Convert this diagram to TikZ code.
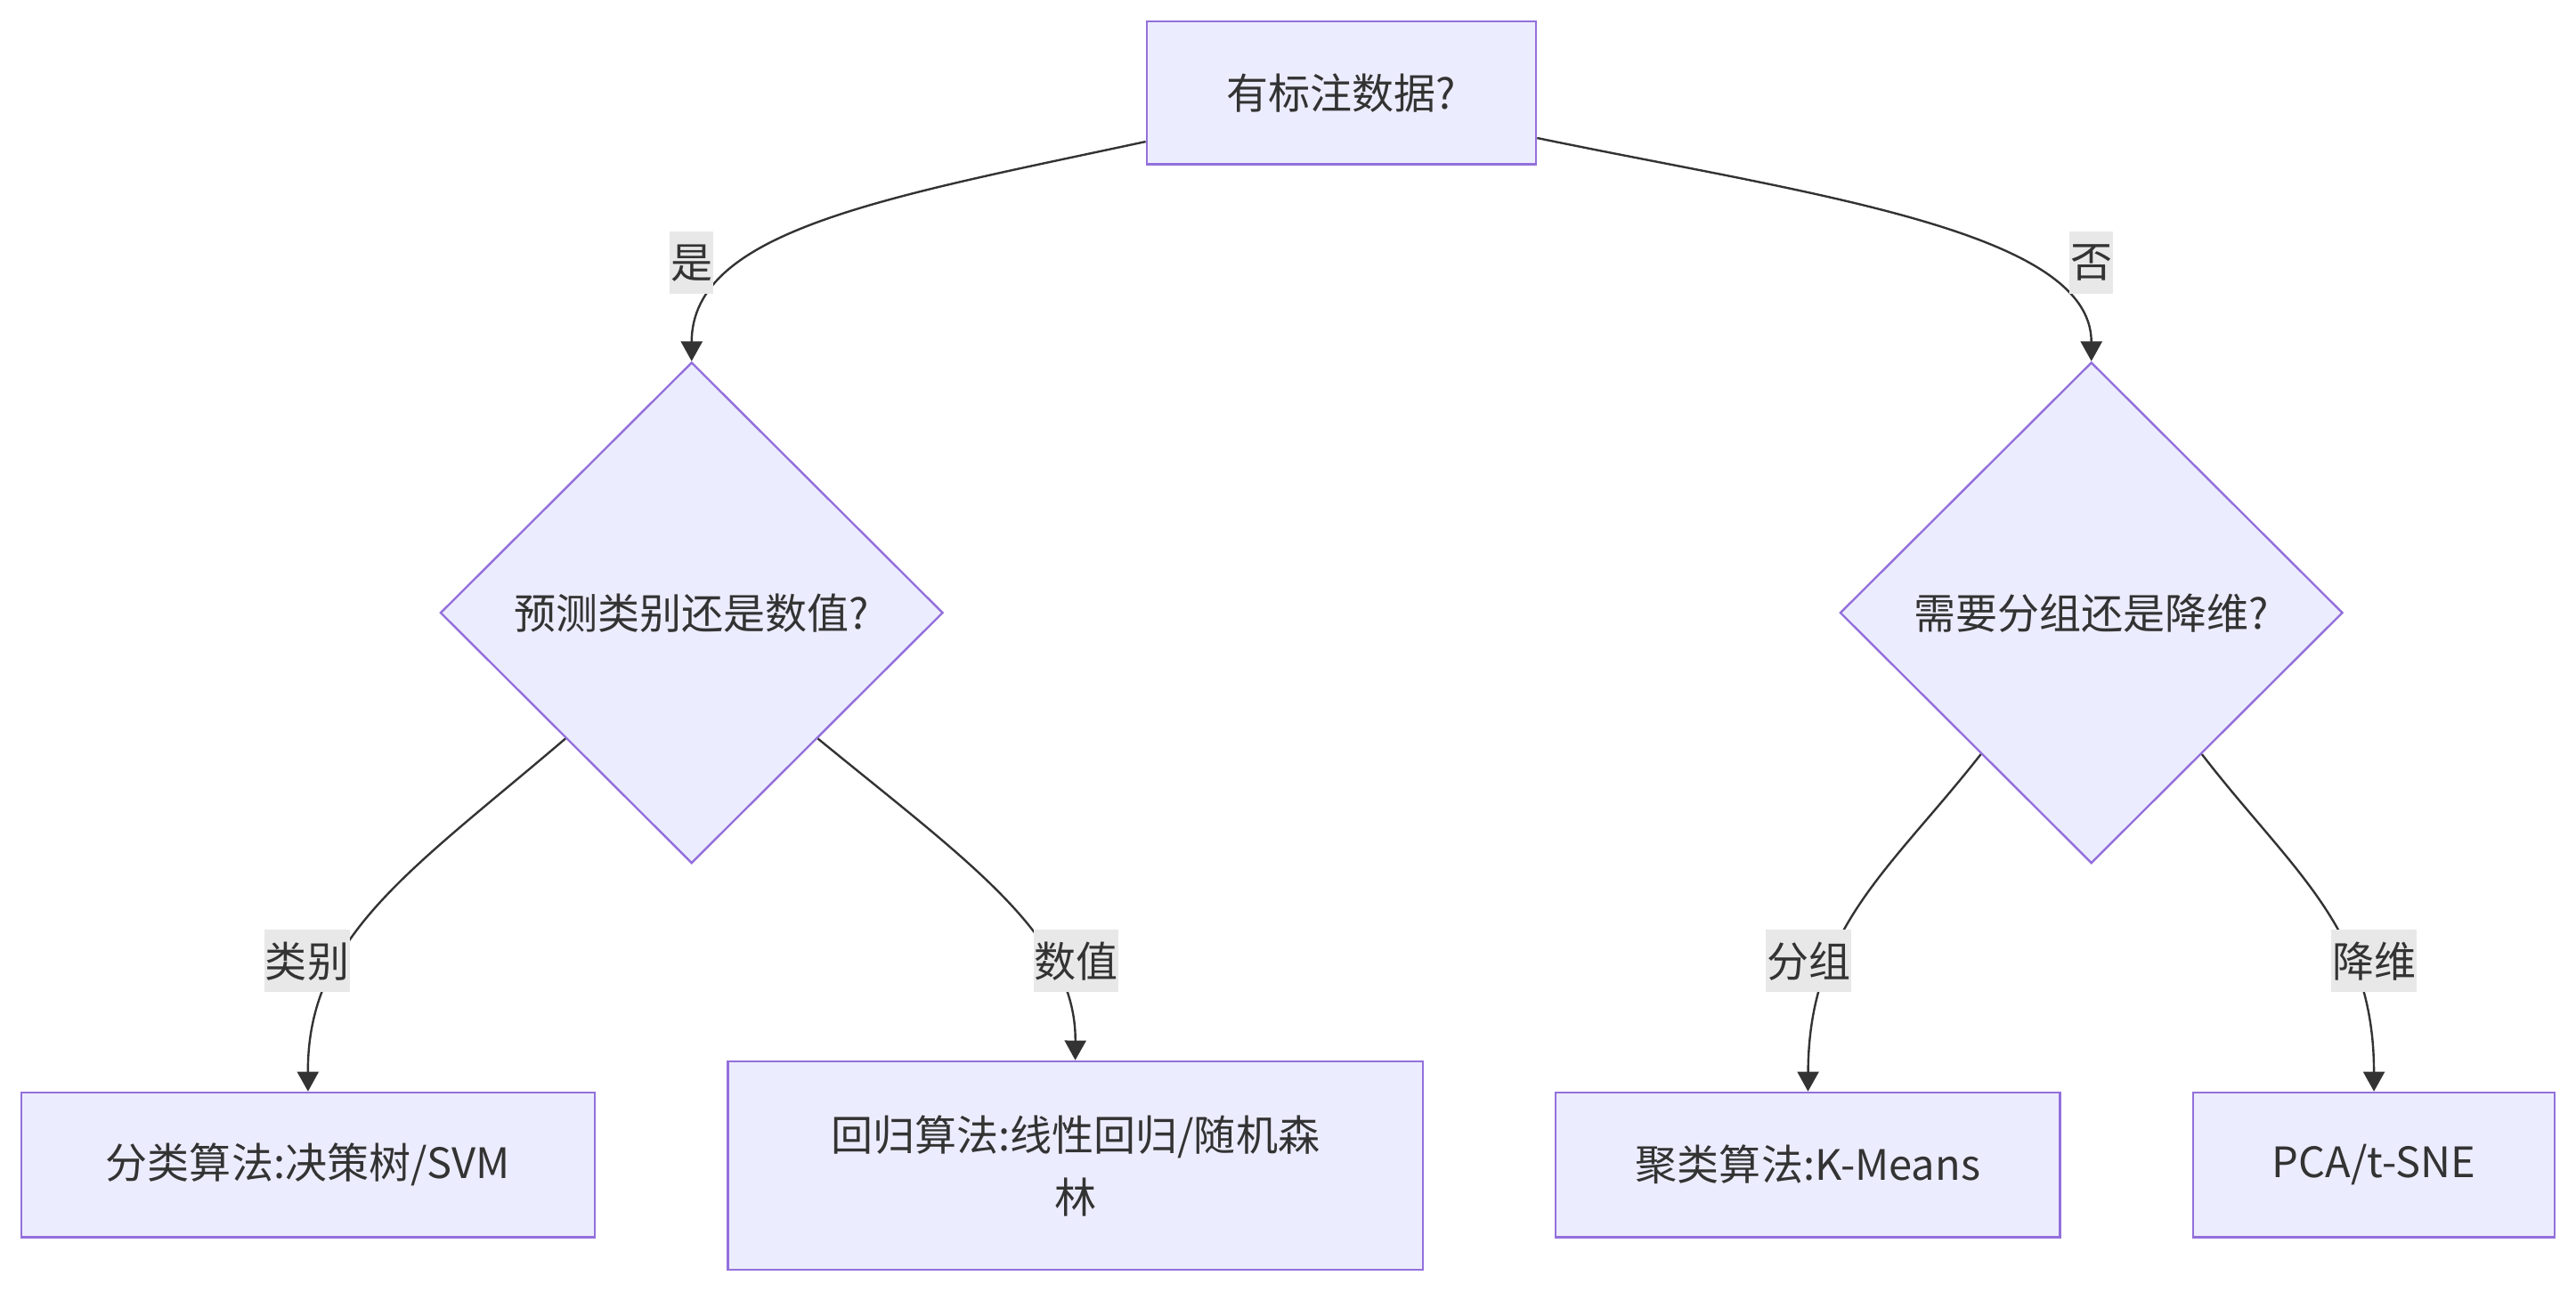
\documentclass[tikz,border=0pt]{standalone}
\usepackage{fontspec}
\setmainfont{Noto Sans CJK SC}
\usetikzlibrary{shapes.geometric}
\usetikzlibrary{arrows.meta}

\definecolor{nodefill}{HTML}{ECECFF}
\definecolor{nodeline}{HTML}{9370DB}
\definecolor{ink}{HTML}{333333}
\definecolor{labelbg}{HTML}{E8E8E8}

\begin{document}
\begin{tikzpicture}[x=1pt,y=-1pt,
  every node/.style={text=ink,font=\fontsize{25.5}{38}\selectfont},
  box/.style={rectangle,draw=nodeline,fill=nodefill,line width=1.3pt,inner sep=0},
  decision/.style={diamond,draw=nodeline,fill=nodefill,line width=1.3pt,inner sep=0,minimum width=306,minimum height=305},
  lbl/.style={fill=labelbg,inner xsep=0.5pt,inner ysep=0,minimum height=38},
  edge/.style={draw=ink,line width=1.3pt,-{Triangle[length=12pt,width=13pt]}}]
  % Boundary
  \useasboundingbox (0,0) rectangle (1568,786.4);
  % Nodes
  \node[box,minimum width=237,minimum height=87] (data) at (816.5,56.5) {有标注数据?};
  \node[decision] (task) at (421,373) {预测类别还是数值?};
  \node[decision] (goal) at (1273,373) {需要分组还是降维?};
  \node[box,minimum width=349,minimum height=88] (cls) at (187.5,709) {分类算法:决策树/SVM};
  \node[box,minimum width=423,minimum height=127,align=center] (reg) at (654.5,709.5) {回归算法:线性回归/随机森\\林};
  \node[box,minimum width=307,minimum height=88] (clu) at (1100.5,709) {聚类算法:K-Means};
  \node[box,minimum width=220,minimum height=88] (dim) at (1445,709) {PCA/t-SNE};
  % Edges
  \draw[edge] (data.194) .. controls (540,120) and (421,140) .. (task.north);
  \draw[edge] (data.-13) .. controls (1100,118) and (1273,140) .. (goal.north);
  \draw[edge] (task.south west) .. controls (250,530) and (187,570) .. (cls.north);
  \draw[edge] (task.south east) .. controls (590,525) and (655,570) .. (reg.north);
  \draw[edge] (goal.-128) .. controls (1150,530) and (1101,565) .. (clu.north);
  \draw[edge] (goal.-52) .. controls (1395,530) and (1445,565) .. (dim.north);
  % Edge labels
  \node[lbl] (yes) at (421,160) {是};
  \node[lbl] (no) at (1273,160) {否};
  \node[lbl] (cat) at (187,585) {类别};
  \node[lbl] (num) at (655,585) {数值};
  \node[lbl] (grp) at (1101,585) {分组};
  \node[lbl] (red) at (1445,585) {降维};
\end{tikzpicture}
\end{document}
